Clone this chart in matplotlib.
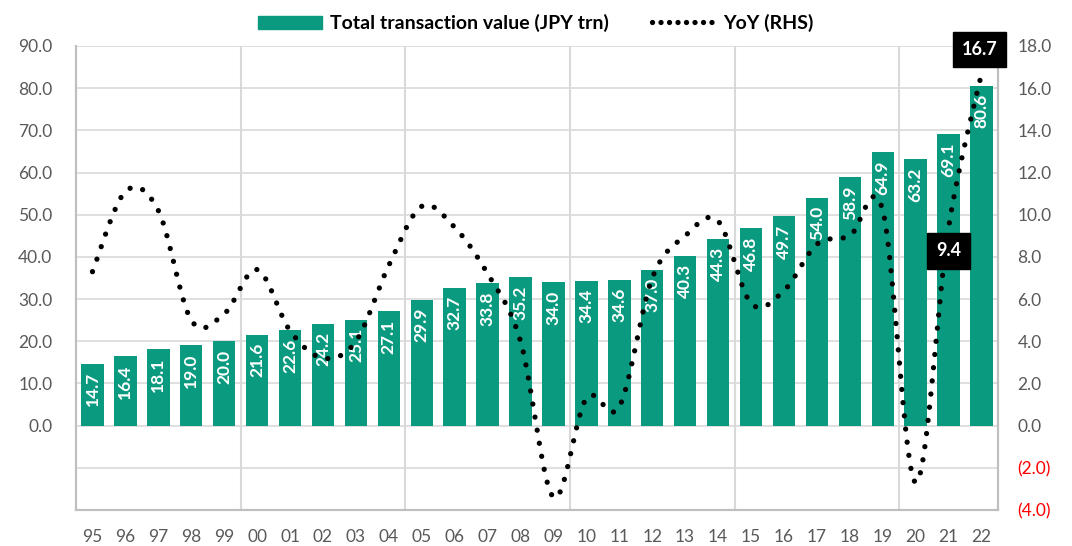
import numpy as np
import matplotlib.pyplot as plt
from matplotlib.patches import Patch
from matplotlib.lines import Line2D

plt.rcParams['font.family'] = ['Lato', 'DejaVu Sans']

years = ['95', '96', '97', '98', '99', '00', '01', '02', '03', '04',
         '05', '06', '07', '08', '09', '10', '11', '12', '13', '14',
         '15', '16', '17', '18', '19', '20', '21', '22']
values = [14.7, 16.4, 18.1, 19.0, 20.0, 21.6, 22.6, 24.2, 25.1, 27.1,
          29.9, 32.7, 33.8, 35.2, 34.0, 34.4, 34.6, 37.0, 40.3, 44.3,
          46.8, 49.7, 54.0, 58.9, 64.9, 63.2, 69.1, 80.6]
yoy = [7.3, 11.1, 10.2, 5.0, 5.3, 7.4, 4.5, 3.2, 4.0, 7.6,
       10.4, 9.4, 7.2, 4.0, -3.4, 1.3, 0.9, 7.0, 9.0, 9.7,
       5.8, 6.4, 8.6, 9.0, 10.2, -2.7, 9.4, 16.7]
callouts = {'21': 9.4, '22': 16.7}

TEAL = '#0A9A80'
GRID = '#D9D9D9'
TICK = '#595959'


def smooth_line(x, y, steps=24):
    # excel style smoothed line: bezier through each point (catmull-rom controls)
    x = np.asarray(x, float)
    y = np.asarray(y, float)
    px = np.concatenate([[x[0]], x, [x[-1]]])
    py = np.concatenate([[y[0]], y, [y[-1]]])
    t = np.linspace(0, 1, steps)[:, None]
    out_x, out_y = [], []
    for i in range(1, len(px) - 2):
        p0 = np.array([px[i], py[i]])
        p3 = np.array([px[i + 1], py[i + 1]])
        c1 = p0 + (p3 - np.array([px[i - 1], py[i - 1]])) / 6
        c2 = p3 - (np.array([px[i + 2], py[i + 2]]) - p0) / 6
        seg = ((1 - t) ** 3) * p0 + 3 * ((1 - t) ** 2) * t * c1 + 3 * (1 - t) * t ** 2 * c2 + t ** 3 * p3
        out_x.extend(seg[:, 0])
        out_y.extend(seg[:, 1])
    return np.array(out_x), np.array(out_y)


fig = plt.figure(figsize=(10.72, 5.46), dpi=100)
ax = fig.add_axes([76 / 1072, 1 - 510 / 546, 922 / 1072, 464 / 546])
ax2 = ax.twinx()

x = np.arange(len(years))
bars = ax.bar(x, values, width=0.68, color=TEAL, zorder=2)
for xi, v in zip(x, values):
    ax.annotate(f'{v:.1f}', (xi, v), xytext=(0, -6), textcoords='offset points',
                rotation=90, ha='center', va='top', color='white',
                fontsize=12.5, fontweight='bold', zorder=3)

ax.set_xlim(-0.5, len(years) - 0.5)
ax.set_ylim(-20, 90)
ax.set_yticks(np.arange(-20, 91, 10))
ax.set_yticklabels(['' if t < 0 else f'{t:.1f}' for t in np.arange(-20, 91, 10)])
ax.yaxis.grid(True, color=GRID, linewidth=1.2, zorder=0)
ax.set_axisbelow(True)
for b in [4.5, 9.5, 14.5, 19.5, 24.5]:
    ax.axvline(b, color=GRID, linewidth=1.5, zorder=0.5)
ax.set_xticks(x)
ax.set_xticklabels(years)
ax.tick_params(axis='x', length=0, pad=14, labelsize=12.5, labelcolor=TICK)
ax.tick_params(axis='y', length=0, pad=17, labelsize=12.5, labelcolor=TICK)

sx, sy = smooth_line(x, yoy)
ax2.plot(sx, sy, color='black', linewidth=3.8, linestyle=(0, (0.01, 2.5)),
         dash_capstyle='round', zorder=4)
ax2.set_ylim(-4, 18)
rticks = np.arange(-4, 19, 2)
ax2.set_yticks(rticks)
ax2.set_yticklabels([f'({abs(t):.1f})' if t < 0 else f'{t:.1f}' for t in rticks])
for lab, t in zip(ax2.get_yticklabels(), rticks):
    lab.set_color('red' if t < 0 else TICK)
ax2.tick_params(axis='y', length=0, pad=14, labelsize=12.5)

for yr, val in callouts.items():
    i = years.index(yr)
    off = (-1.5, 17) if yr == '22' else (0, -17)
    ax2.annotate(f'{val:.1f}', (i, val), xytext=off, textcoords='offset points',
                 ha='center', va='center', color='white', fontsize=13, fontweight='bold',
                 bbox=dict(boxstyle='square,pad=0.5', fc='black', ec='black'), zorder=6,
                 annotation_clip=False)

for a in (ax, ax2):
    a.spines['top'].set_visible(False)
    for s in ('left', 'right', 'bottom'):
        a.spines[s].set_color('#BFBFBF')
        a.spines[s].set_linewidth(1.5)

handles = [Patch(color=TEAL),
           Line2D([0], [0], color='black', linewidth=3.8, linestyle=(0, (0.01, 1.6)),
                  dash_capstyle='round')]
fig.legend(handles, ['Total transaction value (JPY trn)', 'YoY (RHS)'],
           loc='center', bbox_to_anchor=(0.5, 0.958), ncol=2, frameon=False,
           prop={'weight': 'bold', 'size': 14}, handlelength=3.3, handleheight=0.65,
           columnspacing=2.2, handletextpad=0.4)

fig.savefig('out.png', dpi=100)
